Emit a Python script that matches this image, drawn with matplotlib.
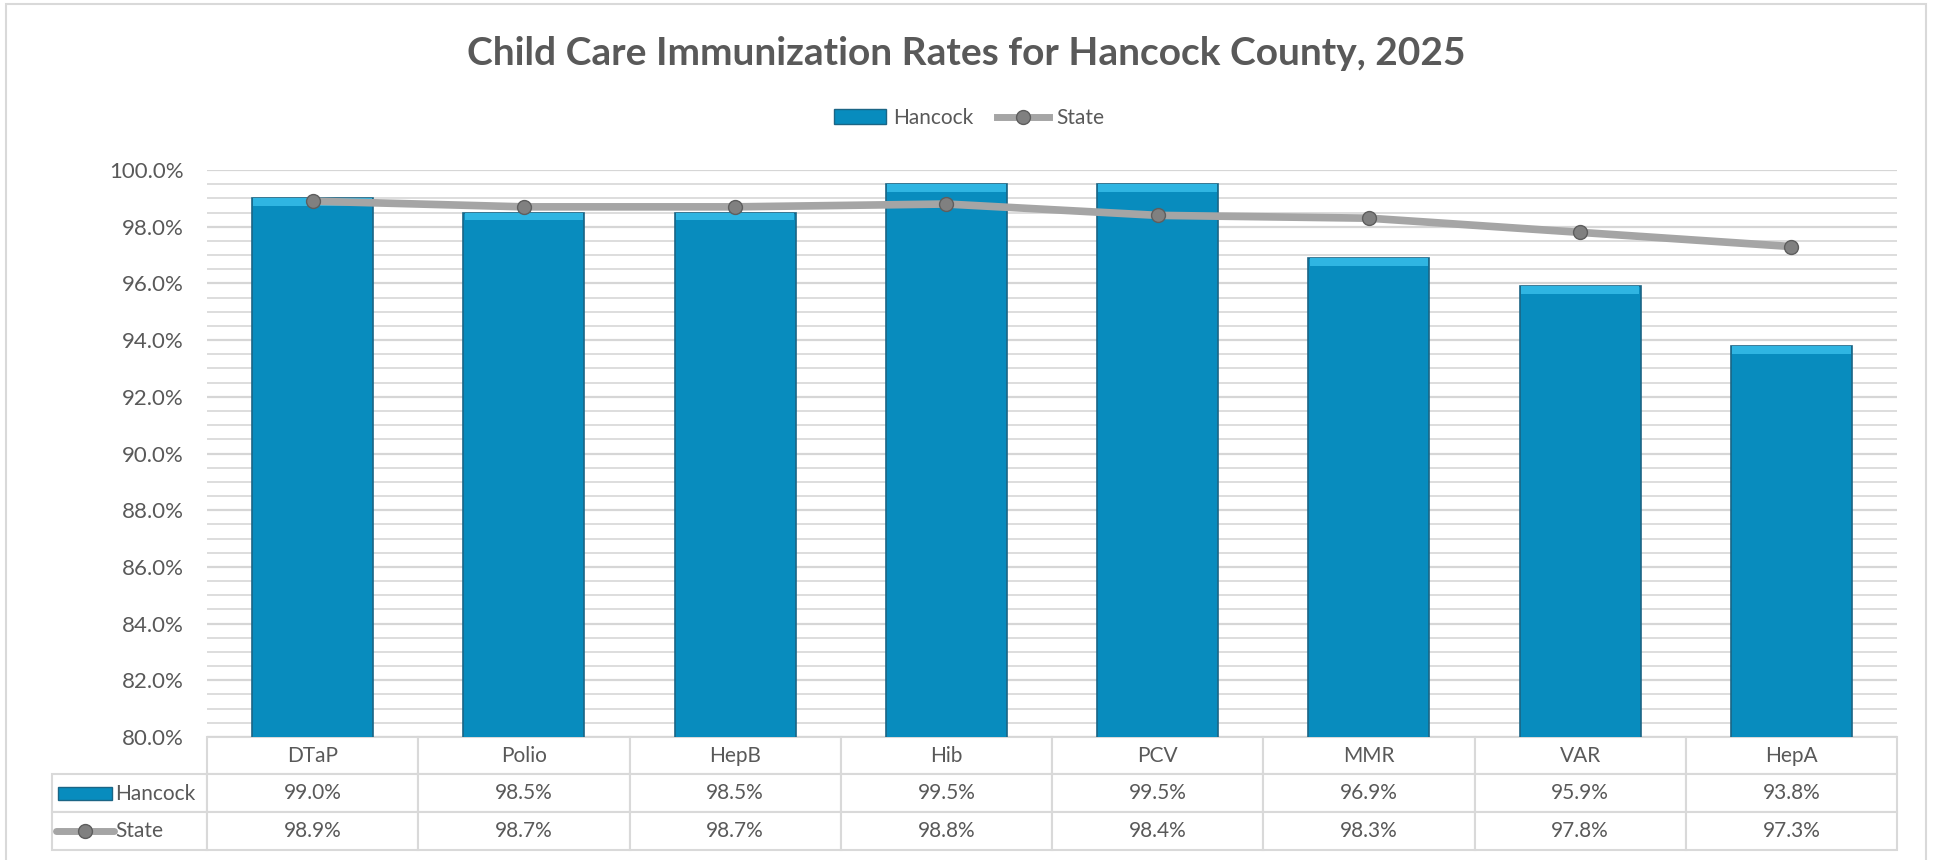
import matplotlib.pyplot as plt
from matplotlib.patches import Rectangle, Patch
from matplotlib.lines import Line2D
from matplotlib.table import Table
from matplotlib.ticker import MultipleLocator, FuncFormatter

plt.rcParams['font.family'] = ['Lato', 'DejaVu Sans']

# chart data
vaccines = ['DTaP', 'Polio', 'HepB', 'Hib', 'PCV', 'MMR', 'VAR', 'HepA']
hancock = [99.0, 98.5, 98.5, 99.5, 99.5, 96.9, 95.9, 93.8]
state = [98.9, 98.7, 98.7, 98.8, 98.4, 98.3, 97.8, 97.3]
series_names = ['Hancock', 'State']

TXT = '#595959'
BAR = '#088CBE'
BAR_TOP = '#2FB5E2'
BAR_EDGE = '#1B6585'
LINE = '#A5A5A5'
GRID = '#DDDDDD'

W, H = 1935, 860
fig = plt.figure(figsize=(W / 100, H / 100), dpi=100)

# plot area in pixels: left 207, right 1897, top 170, bottom 737
ax = fig.add_axes([207 / W, (H - 737) / H, 1690 / W, 567 / H])

x = list(range(len(vaccines)))
ax.bar(x, hancock, width=0.573, color=BAR, edgecolor=BAR_EDGE, linewidth=1.2, zorder=2)
# lighter bevel band at the top of each bar
bevel = 0.28
ax.bar(x, [bevel] * len(x), bottom=[v - bevel for v in hancock], width=0.56,
       color=BAR_TOP, linewidth=0, zorder=2)
ax.plot(x, state, color=LINE, lw=5.5, solid_capstyle='round', zorder=3)
ax.plot(x, state, 'o', ms=10, mfc='#808080', mec='#5E5E5E', mew=1, zorder=4)

ax.set_xlim(-0.5, len(vaccines) - 0.5)
ax.set_ylim(80, 100)
ax.yaxis.set_major_locator(MultipleLocator(2))
ax.yaxis.set_minor_locator(MultipleLocator(0.5))
ax.yaxis.set_major_formatter(FuncFormatter(lambda v, p: f'{v:.1f}%'))
ax.grid(True, which='major', axis='y', color='#D6D6D6', lw=1.6, zorder=0)
ax.grid(True, which='minor', axis='y', color=GRID, lw=1.4, zorder=0)
ax.tick_params(axis='y', which='both', length=0, labelsize=16, labelcolor=TXT, pad=17)
ax.set_xticks([])
for s in ax.spines.values():
    s.set_visible(False)

# data table below the plot; column 0 holds the series names
col_w = 211.25
lab_w = 155
row_h = [37, 38, 38]
tb = Table(ax, bbox=[(52 - 207) / 1690, -(850 - 737) / 567, (1897 - 52) / 1690, (850 - 737) / 567])
for j, name in enumerate(vaccines):
    tb.add_cell(0, j + 1, col_w, row_h[0], text=name, loc='center', edgecolor='#D9D9D9')
for i, vals in enumerate([hancock, state]):
    tb.add_cell(i + 1, 0, lab_w, row_h[i + 1], text='', edgecolor='#D9D9D9')
    for j, v in enumerate(vals):
        tb.add_cell(i + 1, j + 1, col_w, row_h[i + 1], text=f'{v:.1f}%', loc='center',
                    edgecolor='#D9D9D9')
tb.auto_set_font_size(False)
tb.set_fontsize(15)
for c in tb.get_celld().values():
    c.set_linewidth(1.5)
    c.get_text().set_color(TXT)
ax.add_table(tb)

# series keys in the table's label column
ax.add_patch(Rectangle((-0.0882, -0.1111), 0.032, 0.0229, transform=ax.transAxes,
                       facecolor=BAR, edgecolor=BAR_EDGE, lw=1, clip_on=False, zorder=5))
ax.plot([-0.0894, -0.055], [-0.1658, -0.1658], transform=ax.transAxes, color=LINE,
        lw=5, solid_capstyle='round', clip_on=False, zorder=5)
ax.plot([-0.0722], [-0.1658], 'o', transform=ax.transAxes, ms=10, mfc='#808080',
        mec='#5E5E5E', clip_on=False, zorder=6)
for name, yy in zip(series_names, [-0.1005, -0.1658]):
    ax.text(-0.0544, yy, name, transform=ax.transAxes, ha='left', va='center',
            fontsize=15, color=TXT)

# legend
handles = [Patch(facecolor=BAR, edgecolor=BAR_EDGE, lw=1),
           Line2D([], [], color=LINE, lw=5, marker='o', ms=10, mfc='#808080', mec='#5E5E5E')]
fig.legend(handles, series_names, loc='center', bbox_to_anchor=(969 / W, 1 - 118 / H),
           ncol=2, frameon=False, fontsize=15, labelcolor=TXT, handlelength=2.5,
           handletextpad=0.35, columnspacing=1.1)

fig.text(966 / W, 1 - 65 / H, 'Child Care Immunization Rates for Hancock County, 2025',
         ha='center', va='baseline', fontsize=28, fontweight='bold', color=TXT)

# chart border
fig.add_artist(Rectangle((6 / W, -0.01), 1920 / W, 1 - 4 / H + 0.01, transform=fig.transFigure,
                         fill=False, edgecolor='#D9D9D9', lw=1.5))

fig.savefig('out.png', dpi=100)
